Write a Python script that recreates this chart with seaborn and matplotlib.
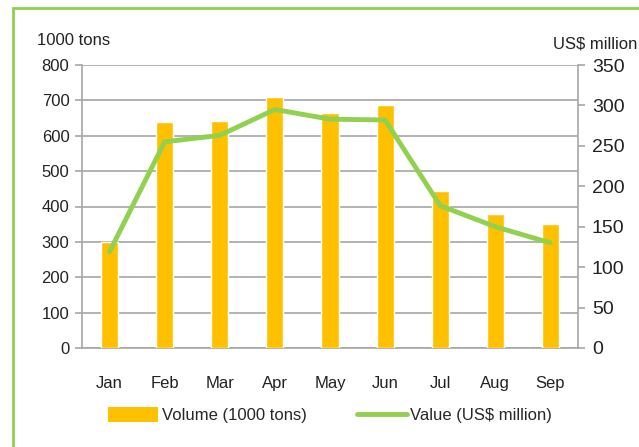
import matplotlib
matplotlib.use("Agg")
import matplotlib.pyplot as plt
import seaborn as sns
import pandas as pd
from matplotlib.patches import Rectangle, Patch
from matplotlib.lines import Line2D

months = ["Jan", "Feb", "Mar", "Apr", "May", "Jun", "Jul", "Aug", "Sep"]
volume = [300, 638, 643, 710, 663, 688, 443, 380, 351]
value = [119, 255, 263, 295, 283, 282, 176, 150, 130]
left_ticks = [0, 100, 200, 300, 400, 500, 600, 700, 800]
right_ticks = [0, 50, 100, 150, 200, 250, 300, 350]

sns.set_theme(style="white")
plt.rcParams['font.family'] = ['Liberation Sans', 'DejaVu Sans']

df = pd.DataFrame({"Month": months, "Volume": volume, "Value": value})

fig = plt.figure(figsize=(6.39, 4.47), dpi=100)
ax = fig.add_axes([82/639, 1-348/447, (578-82)/639, (348-65)/447])

sns.barplot(data=df, x="Month", y="Volume", color="#FFC000", saturation=1,
            width=0.31, ax=ax, zorder=3)
ax.set_ylim(0, 800)
ax.set_yticks(left_ticks)
ax.set_yticklabels([str(t) for t in left_ticks], fontsize=12, color="#222222")
ax.set_xlabel("")
ax.set_ylabel("")
ax.set_xlim(-0.5, len(months)-0.5)
ax.grid(axis="y", color="#A6A6A6", lw=1.2, zorder=0)
ax.set_axisbelow(True)
for s in ["top", "right"]:
    ax.spines[s].set_visible(False)
for s in ["left", "bottom"]:
    ax.spines[s].set_color("#A6A6A6")
    ax.spines[s].set_linewidth(1.2)
ax.tick_params(axis="y", which="both", left=True, length=5, width=1.2, color="#A6A6A6", pad=4)
ax.tick_params(axis="x", bottom=False, labelsize=12, labelcolor="#222222", pad=14)

ax2 = ax.twinx()
sns.lineplot(data=df, x="Month", y="Value", color="#92D050", lw=3.5, ax=ax2, sort=False, zorder=4)
ax2.set_ylim(0, 350)
ax2.set_yticks(right_ticks)
ax2.set_yticklabels([str(t) for t in right_ticks], fontsize=14, color="#222222")
ax2.set_ylabel("")
for s in ["top", "left", "bottom"]:
    ax2.spines[s].set_visible(False)
ax2.spines["right"].set_color("#A6A6A6")
ax2.spines["right"].set_linewidth(1.2)
ax2.tick_params(axis="y", right=True, length=5, width=1.2, color="#A6A6A6", pad=5)
ax2.grid(False)

fig.text(37/639, 1-45/447, "1000 tons", fontsize=12, color="#222222", ha="left", va="baseline")
fig.text(637/639, 1-49/447, "US$ million", fontsize=12, color="#222222", ha="right", va="baseline")

handles = [Patch(facecolor="#FFC000", edgecolor="none"),
           Line2D([0], [0], color="#92D050", lw=3.5)]
fig.legend(handles, ["Volume (1000 tons)", "Value (US$ million)"], loc="center",
           bbox_to_anchor=(330/639, 1-415/447), ncol=2, frameon=False, fontsize=12,
           handlelength=3.0, handleheight=1.0, columnspacing=3.0, handletextpad=0.2)

fig.patches.append(Rectangle((13/639, -0.1), 2, 1.1-8/447, fill=False,
                             edgecolor="#92D050", lw=2, transform=fig.transFigure))

fig.savefig("out.png", dpi=100)
